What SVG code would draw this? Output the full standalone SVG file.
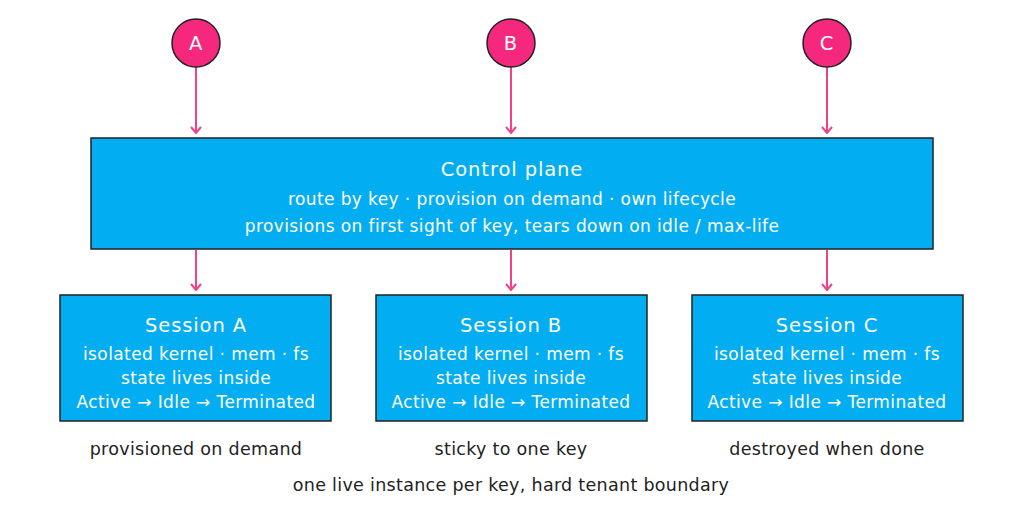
<svg xmlns="http://www.w3.org/2000/svg" width="1024" height="518" viewBox="0 0 1024 518">
<defs>
<style>
.box{fill:#02AEF1;stroke:#222;stroke-width:1.5}
.circ{fill:#F5287E;stroke:#222;stroke-width:1.5}
.t{font-family:"DejaVu Sans",sans-serif;fill:#fff;text-anchor:middle}
.title{font-size:19.5px;letter-spacing:0.9px}
.sub{font-size:17px;letter-spacing:0.4px}
.lbl{font-family:"DejaVu Sans",sans-serif;fill:#222;text-anchor:middle;font-size:17.5px;letter-spacing:0.3px}
.edge{stroke:#F0418B;stroke-width:2;fill:none;marker-end:url(#ah)}
</style>
<marker id="ah" viewBox="0 0 12 12" refX="11" refY="6" markerWidth="12" markerHeight="12" markerUnits="userSpaceOnUse" orient="auto">
<path d="M5 1 L11 6 L5 11" fill="none" stroke="#F0418B" stroke-width="2"/>
</marker>
</defs>
<rect width="1024" height="518" fill="#fff"/>
<g id="connectors">
<line class="edge" x1="196" y1="67" x2="196" y2="133"/>
<line class="edge" x1="511" y1="67" x2="511" y2="133"/>
<line class="edge" x1="827" y1="67" x2="827" y2="133"/>
<line class="edge" x1="196" y1="250" x2="196" y2="290"/>
<line class="edge" x1="511" y1="250" x2="511" y2="290"/>
<line class="edge" x1="827" y1="250" x2="827" y2="290"/>
</g>
<g id="nodeA"><circle class="circ" cx="196" cy="43" r="24"/><text class="t title" x="196" y="50">A</text></g>
<g id="nodeB"><circle class="circ" cx="511" cy="43" r="24"/><text class="t title" x="511" y="50">B</text></g>
<g id="nodeC"><circle class="circ" cx="827" cy="43" r="24"/><text class="t title" x="827" y="50">C</text></g>
<g id="control">
<rect class="box" x="91" y="138" width="842" height="111"/>
<text class="t title" x="512" y="176">Control plane</text>
<text class="t sub" x="512" y="205">route by key · provision on demand · own lifecycle</text>
<text class="t sub" x="512" y="232">provisions on first sight of key, tears down on idle / max-life</text>
</g>
<g id="sessionA">
<rect class="box" x="60" y="295" width="271" height="126"/>
<text class="t title" x="196" y="332">Session A</text>
<text class="t sub" x="196" y="360">isolated kernel · mem · fs</text>
<text class="t sub" x="196" y="384">state lives inside</text>
<text class="t sub" x="196" y="408">Active → Idle → Terminated</text>
</g>
<g id="sessionB">
<rect class="box" x="376" y="295" width="271" height="126"/>
<text class="t title" x="511" y="332">Session B</text>
<text class="t sub" x="511" y="360">isolated kernel · mem · fs</text>
<text class="t sub" x="511" y="384">state lives inside</text>
<text class="t sub" x="511" y="408">Active → Idle → Terminated</text>
</g>
<g id="sessionC">
<rect class="box" x="692" y="295" width="271" height="126"/>
<text class="t title" x="827" y="332">Session C</text>
<text class="t sub" x="827" y="360">isolated kernel · mem · fs</text>
<text class="t sub" x="827" y="384">state lives inside</text>
<text class="t sub" x="827" y="408">Active → Idle → Terminated</text>
</g>
<g id="labels">
<text class="lbl" x="196" y="455">provisioned on demand</text>
<text class="lbl" x="511" y="455">sticky to one key</text>
<text class="lbl" x="827" y="455">destroyed when done</text>
<text class="lbl" x="511" y="491">one live instance per key, hard tenant boundary</text>
</g>
</svg>
